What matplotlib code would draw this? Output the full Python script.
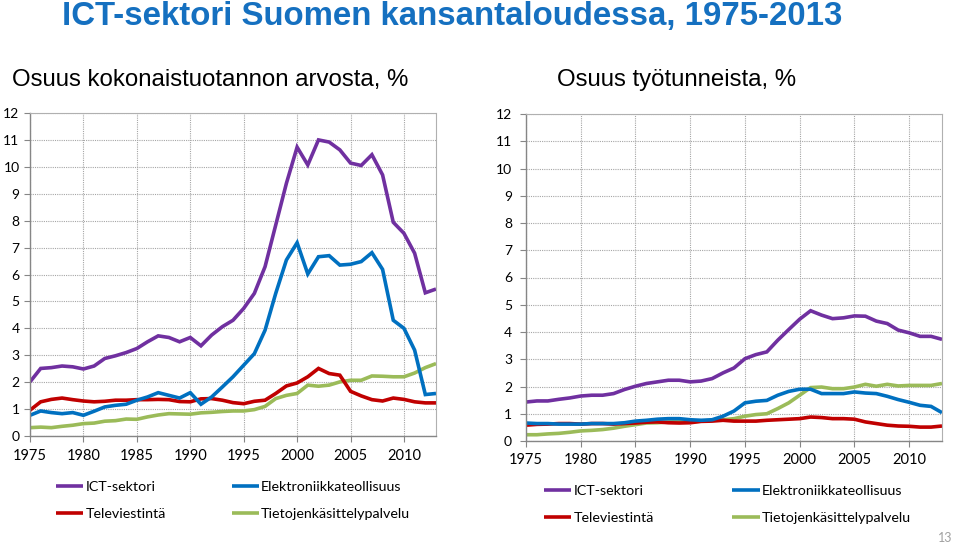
import matplotlib
matplotlib.use("Agg")
import matplotlib.pyplot as plt
import numpy as np

years = list(range(1975, 2014))

# Left panel: share of total output value, %
ict_output = [2.01, 2.51, 2.54, 2.60, 2.57, 2.49, 2.60, 2.88, 2.98, 3.10,
              3.25, 3.50, 3.72, 3.66, 3.50, 3.66, 3.35, 3.75, 4.06, 4.30,
              4.74, 5.30, 6.29, 7.84, 9.39, 10.73, 10.07, 11.00, 10.92, 10.63,
              10.14, 10.05, 10.45, 9.70, 7.94, 7.53, 6.79, 5.32, 5.46]
elec_output = [0.77, 0.93, 0.87, 0.83, 0.87, 0.77, 0.92, 1.08, 1.14, 1.18,
               1.33, 1.45, 1.61, 1.51, 1.41, 1.61, 1.18, 1.45, 1.82, 2.20,
               2.63, 3.06, 3.93, 5.30, 6.54, 7.18, 6.02, 6.66, 6.70, 6.35,
               6.38, 6.48, 6.81, 6.19, 4.30, 4.00, 3.19, 1.54, 1.58]
tele_output = [0.96, 1.27, 1.36, 1.41, 1.35, 1.30, 1.27, 1.29, 1.33, 1.33,
               1.35, 1.35, 1.36, 1.35, 1.28, 1.27, 1.38, 1.39, 1.33, 1.24,
               1.20, 1.29, 1.33, 1.58, 1.86, 1.97, 2.20, 2.51, 2.32, 2.26,
               1.66, 1.49, 1.35, 1.30, 1.41, 1.36, 1.27, 1.23, 1.23]
it_output = [0.31, 0.33, 0.31, 0.36, 0.40, 0.46, 0.48, 0.55, 0.57, 0.63,
             0.62, 0.71, 0.78, 0.83, 0.82, 0.81, 0.86, 0.88, 0.91, 0.93,
             0.93, 0.98, 1.10, 1.39, 1.51, 1.58, 1.89, 1.85, 1.89, 2.01,
             2.07, 2.07, 2.23, 2.22, 2.20, 2.20, 2.34, 2.54, 2.69]

# Right panel: share of working hours, %
ict_hours = [1.43, 1.47, 1.47, 1.53, 1.58, 1.65, 1.68, 1.68, 1.74, 1.89,
             2.01, 2.11, 2.17, 2.23, 2.23, 2.17, 2.20, 2.29, 2.50, 2.68,
             3.02, 3.17, 3.27, 3.70, 4.09, 4.47, 4.78, 4.62, 4.49, 4.52,
             4.59, 4.58, 4.40, 4.31, 4.07, 3.97, 3.84, 3.84, 3.73]
elec_hours = [0.66, 0.64, 0.64, 0.62, 0.62, 0.62, 0.64, 0.64, 0.64, 0.67,
              0.73, 0.76, 0.80, 0.82, 0.82, 0.78, 0.76, 0.78, 0.91, 1.10,
              1.40, 1.46, 1.49, 1.68, 1.82, 1.90, 1.90, 1.74, 1.74, 1.74,
              1.80, 1.76, 1.74, 1.64, 1.52, 1.42, 1.31, 1.27, 1.04]
tele_hours = [0.58, 0.61, 0.62, 0.64, 0.64, 0.62, 0.64, 0.64, 0.62, 0.64,
              0.66, 0.69, 0.70, 0.67, 0.66, 0.67, 0.72, 0.73, 0.76, 0.73,
              0.73, 0.73, 0.76, 0.78, 0.80, 0.82, 0.88, 0.86, 0.82, 0.82,
              0.80, 0.70, 0.64, 0.58, 0.55, 0.54, 0.51, 0.51, 0.55]
it_hours = [0.23, 0.23, 0.26, 0.28, 0.32, 0.37, 0.39, 0.42, 0.47, 0.54,
            0.60, 0.66, 0.67, 0.70, 0.71, 0.70, 0.73, 0.76, 0.78, 0.82,
            0.91, 0.97, 1.00, 1.19, 1.40, 1.68, 1.96, 1.98, 1.92, 1.92,
            1.98, 2.08, 2.01, 2.08, 2.02, 2.04, 2.04, 2.04, 2.11]

series_names = ["ICT-sektori", "Elektroniikkateollisuus", "Televiestintä", "Tietojenkäsittelypalvelu"]
colors = ["#7030A0", "#0070C0", "#C00000", "#9BBB59"]
y_ticks = list(range(0, 13))
x_ticks = list(range(1975, 2011, 5))

plt.rcParams['font.family'] = ['Lato', 'DejaVu Sans']

fig = plt.figure(figsize=(9.6, 5.47), dpi=100)

fig.text(62/960, 1 - 16/547, "ICT-sektori Suomen kansantaloudessa, 1975-2013",
         family=['Liberation Sans', 'DejaVu Sans'], fontsize=23.8, fontweight='bold',
         color="#1570C0", ha='left', va='center')
fig.text(12/960, 1 - 80/547, "Osuus kokonaistuotannon arvosta, %",
         family=['Liberation Sans', 'DejaVu Sans'], fontsize=17.3, color='black',
         ha='left', va='center')
fig.text(557/960, 1 - 80/547, "Osuus työtunneista, %",
         family=['Liberation Sans', 'DejaVu Sans'], fontsize=17.3, color='black',
         ha='left', va='center')

ax1 = fig.add_axes([30/960, 1 - 436/547, 406/960, 323/547])
ax2 = fig.add_axes([526/960, 1 - 441/547, 416/960, 327/547])

panels = [
    (ax1, [ict_output, elec_output, tele_output, it_output], 3.5),
    (ax2, [ict_hours, elec_hours, tele_hours, it_hours], 6.0),
]

order = [3, 2, 1, 0]
for ax, data, ypad in panels:
    for i in order:
        ax.plot(years, data[i], color=colors[i], lw=2.6, solid_capstyle='butt',
                solid_joinstyle='miter', label=series_names[i])
    ax.set_xlim(1975, 2013)
    ax.set_ylim(0, 12)
    ax.set_yticks(y_ticks)
    ax.set_xticks(x_ticks)
    ax.grid(True, color='#a6a6a6', linestyle=(0, (1, 1)), linewidth=0.8)
    ax.set_axisbelow(True)
    for s in ['top', 'right']:
        ax.spines[s].set_color('#b0b0b0')
        ax.spines[s].set_linestyle((0, (1, 1)))
        ax.spines[s].set_linewidth(0.8)
    for s in ['left', 'bottom']:
        ax.spines[s].set_color('#868686')
        ax.spines[s].set_linewidth(1.0)
    ax.tick_params(axis='x', labelsize=10.5, colors='#868686', labelcolor='black',
                   length=4, width=0.8, pad=5)
    ax.tick_params(axis='y', labelsize=10.0, colors='#868686', labelcolor='black',
                   length=4, width=0.8, pad=ypad)


def legend_for(ax, x0, y0, colspace):
    by_label = {ln.get_label(): ln for ln in ax.get_lines()}
    labels = ["ICT-sektori", "Televiestintä", "Elektroniikkateollisuus", "Tietojenkäsittelypalvelu"]
    hs = [by_label[l] for l in labels]
    return fig.legend(hs, labels, ncol=2, loc='upper left',
                      bbox_to_anchor=(x0, y0), bbox_transform=fig.transFigure,
                      frameon=False, fontsize=10.3, handlelength=1.9, handletextpad=0.15,
                      columnspacing=colspace, labelspacing=1.05, borderpad=0, borderaxespad=0)


legend_for(ax1, 56/960, 1 - 481/547, 4.6)
legend_for(ax2, 544/960, 1 - 485/547, 5.5)

fig.text(952/960, 1 - 538/547, "13", fontsize=9, color='#a0a0a0', ha='right', va='center')

fig.savefig("out.png", dpi=100)
